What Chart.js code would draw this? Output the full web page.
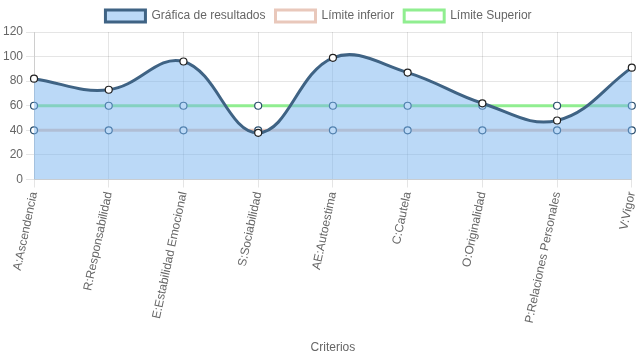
<!DOCTYPE html>
<html>
<head>
<meta charset="utf-8">
<script src="https://cdn.jsdelivr.net/npm/chart.js@4"></script>
<style>
  html, body { margin: 0; padding: 0; background: #fff; }
  #wrap { width: 637px; height: 359px; }
</style>
</head>
<body>
<div id="wrap"><canvas id="chart_canvas"></canvas></div>
<script>
// data
const criterios = ['A:Ascendencia', 'R:Responsabilidad', 'E:Estabilidad Emocional', 'S:Sociabilidad',
  'AE:Autoestima', 'C:Cautela', 'O:Originalidad', 'P:Relaciones Personales', 'V:Vigor'];
const resultados = [82, 73, 96, 38, 99, 87, 62, 48, 91];
const limiteInferior = [40, 40, 40, 40, 40, 40, 40, 40, 40];
const limiteSuperior = [60, 60, 60, 60, 60, 60, 60, 60, 60];
const yTicks = [0, 20, 40, 60, 80, 100, 120];

Chart.defaults.font.family = "'Liberation Sans', Arial, sans-serif";
Chart.defaults.color = '#666';

var ctx = document.getElementById('chart_canvas');
var myChart = new Chart(ctx, {
  type: 'line',
  data: {
    labels: criterios,
    datasets: [{
      label: 'Gráfica de resultados',
      data: resultados,
      borderColor: '#3f6384',
      backgroundColor: 'rgba(120, 180, 240, 0.5)',
      borderWidth: 3,
      fill: 'origin',
      tension: 0.4,
      pointRadius: 3.5,
      pointBackgroundColor: '#fff',
      pointBorderColor: '#222',
      pointBorderWidth: 1.2
    }, {
      label: 'Límite inferior',
      data: limiteInferior,
      borderColor: 'rgb(233, 200, 187)',
      backgroundColor: '#fff',
      borderWidth: 3,
      fill: false,
      pointRadius: 3.5,
      pointBackgroundColor: '#fff',
      pointBorderColor: '#2b4f6e',
      pointBorderWidth: 1.2
    }, {
      label: 'Límite Superior',
      data: limiteSuperior,
      borderColor: 'rgb(144, 238, 144)',
      backgroundColor: '#fff',
      borderWidth: 3,
      fill: false,
      pointRadius: 3.5,
      pointBackgroundColor: '#fff',
      pointBorderColor: '#2b4f6e',
      pointBorderWidth: 1.2
    }]
  },
  options: {
    responsive: true,
    maintainAspectRatio: false,
    animation: false,
    plugins: {
      legend: {
        position: 'top',
        labels: { boxWidth: 40, font: { size: 12 } }
      },
      tooltip: { enabled: false }
    },
    scales: {
      x: {
        title: { display: true, text: 'Criterios', font: { size: 12 }, padding: { top: 14, bottom: 4 } },
        ticks: { minRotation: 78, maxRotation: 78, font: { size: 12 } },
        grid: { color: 'rgba(0,0,0,0.1)' },
        // the reference keeps the last category almost at the right edge
        afterFit: function(axis) {
          axis.paddingRight = 3;
        }
      },
      y: {
        min: yTicks[0],
        max: yTicks[yTicks.length - 1],
        afterBuildTicks: function(axis) {
          axis.ticks = yTicks.map(function(v) { return { value: v }; });
        },
        ticks: { font: { size: 12 } },
        grid: { color: 'rgba(0,0,0,0.1)' }
      }
    }
  }
});
</script>
</body>
</html>
